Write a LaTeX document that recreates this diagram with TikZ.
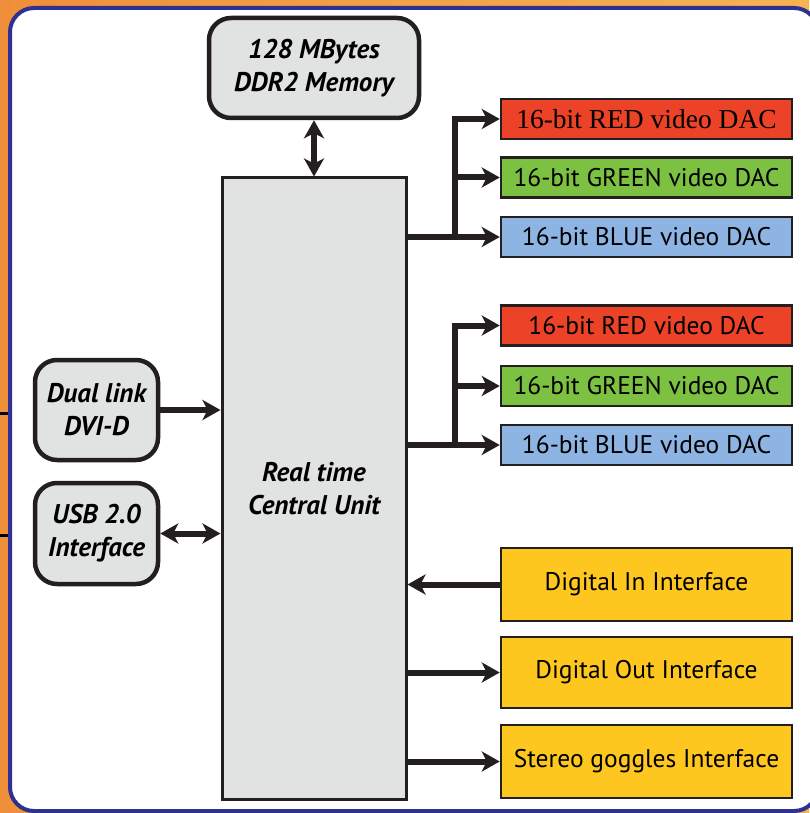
\documentclass[tikz,border=0pt]{standalone}
\usepackage{fontspec}
\setmainfont{PT Sans}
\newfontfamily\dacserif{Liberation Serif}
\usetikzlibrary{arrows.meta}

\definecolor{frameL}{HTML}{EF8F3A}
\definecolor{frameR}{HTML}{F6B351}
\definecolor{panelblue}{HTML}{2E3192}
\definecolor{boxgray}{HTML}{E1E2E2}
\definecolor{edge}{HTML}{231F20}
\definecolor{dacred}{HTML}{EC4228}
\definecolor{dacgreen}{HTML}{7CC142}
\definecolor{dacblue}{HTML}{8DB4E2}
\definecolor{ifyellow}{HTML}{FDC71F}

\tikzset{
  roundbox/.style={draw=edge, fill=boxgray, line width=4.5pt, rounded corners=22pt,
    align=center, inner sep=0pt, font=\fontsize{27}{33}\selectfont\bfseries\itshape},
  unitbox/.style={draw=edge, fill=boxgray, line width=3pt, inner sep=0pt, align=center,
    minimum width=184pt, minimum height=621pt, font=\fontsize{27}{33}\selectfont\bfseries\itshape},
  dacbox/.style={draw=edge, line width=2.5pt, inner sep=0pt, minimum width=291pt,
    minimum height=40pt, font=\fontsize{25.5}{30}\selectfont},
  ifbox/.style={draw=edge, fill=ifyellow, line width=2.5pt, inner sep=0pt, minimum width=291pt,
    minimum height=72pt, font=\fontsize{25.5}{30}\selectfont},
  bus/.style={draw=edge, line width=6pt},
  busarrow/.style={bus, -{Stealth[length=18pt, width=20pt, inset=5pt]}},
  busboth/.style={bus, {Stealth[length=18pt, width=20pt, inset=5pt]}-{Stealth[length=18pt, width=20pt, inset=5pt]}},
}

\begin{document}
\begin{tikzpicture}[x=1pt, y=-1pt]
\useasboundingbox (0,0) rectangle (809,813);

% orange frame and white panel
\shade[left color=frameL, right color=frameR] (0,0) rectangle (809,813);
\draw[black, line width=3pt] (0,413) -- (12,413) (0,535) -- (12,535);
\draw[panelblue, fill=white, line width=4pt, rounded corners=24pt] (10,8) rectangle (818,811);

% blocks
\node[roundbox, minimum width=210pt, minimum height=100pt] (mem) at (314,68)
  {128 MBytes\\DDR2 Memory};
\node[unitbox] (unit) at (314,488.5) {Real time\\Central Unit};
\node[roundbox, minimum width=123pt, minimum height=100pt] (dvi) at (96.5,410)
  {Dual link\\DVI-D};
\node[roundbox, minimum width=123pt, minimum height=101pt] (usb) at (96.5,533.5)
  {USB 2.0\\Interface};

\node[dacbox, fill=dacred]   (red1)   at (646.5,119)   {\dacserif\fontsize{27.5}{30}\selectfont 16-bit RED video DAC};
\node[dacbox, fill=dacgreen] (green1) at (646.5,177.5) {16-bit GREEN video DAC};
\node[dacbox, fill=dacblue]  (blue1)  at (646.5,237)   {16-bit BLUE video DAC};

\node[dacbox, fill=dacred]   (red2)   at (646.5,325.5) {16-bit RED video DAC};
\node[dacbox, fill=dacgreen] (green2) at (646.5,386)   {16-bit GREEN video DAC};
\node[dacbox, fill=dacblue]  (blue2)  at (646.5,445)   {16-bit BLUE video DAC};

\node[ifbox, minimum height=73pt] (din)    at (646.5,584.5) {Digital In Interface};
\node[ifbox, minimum height=71pt] (dout)   at (646.5,672.5) {Digital Out Interface};
\node[ifbox, minimum height=73pt] (stereo) at (646.5,761.5) {Stereo goggles Interface};

% branch points of the two DAC buses
\coordinate (t1) at (455,0);
\coordinate (t2) at (455,0);

% connectors
\draw[busboth] (mem.south) -- (unit.north -| mem.south);
\draw[busarrow] (dvi.east) -- (dvi.east -| unit.west);
\draw[busboth] (usb.east) -- (usb.east -| unit.west);

\draw[busarrow] (unit.east |- blue1) -- (blue1.west);
\draw[busarrow, line join=miter] (t1 |- blue1) -- (t1 |- red1) -- (red1.west);
\draw[busarrow] (t1 |- green1) -- (green1.west);

\draw[busarrow] (unit.east |- blue2) -- (blue2.west);
\draw[busarrow, line join=miter] (t2 |- blue2) -- (t2 |- red2) -- (red2.west);
\draw[busarrow] (t2 |- green2) -- (green2.west);

\draw[busarrow] (din.west) -- (din.west -| unit.east);
\draw[busarrow] (unit.east |- dout) -- (dout.west);
\draw[busarrow] (unit.east |- stereo) -- (stereo.west);
\end{tikzpicture}
\end{document}
